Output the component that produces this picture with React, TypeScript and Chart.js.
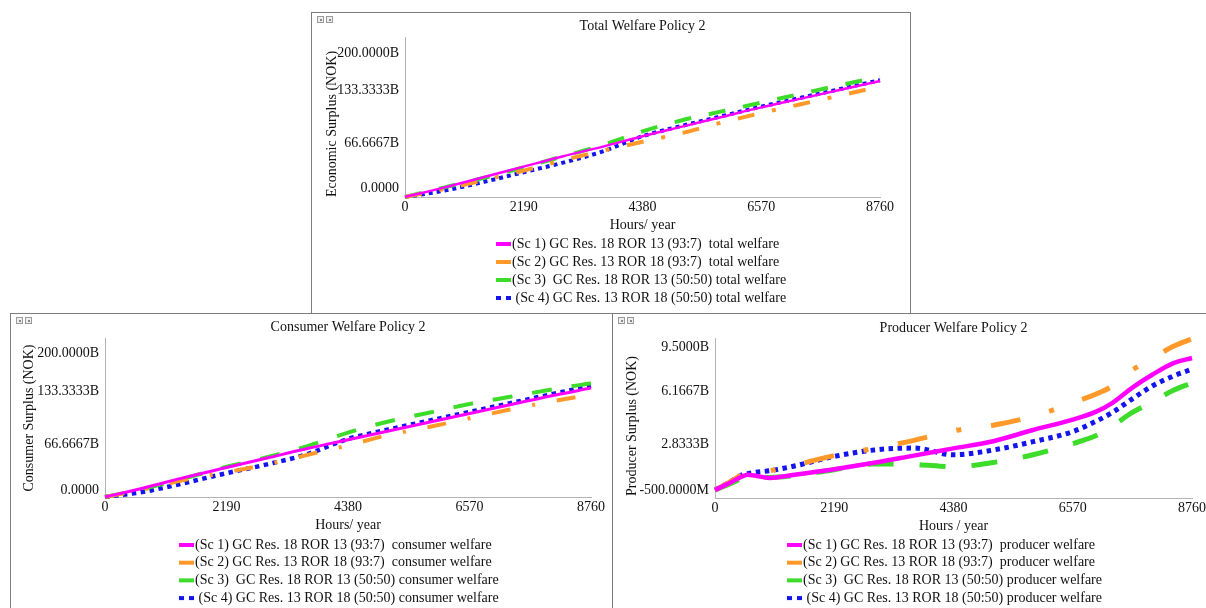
import React, { useEffect, useRef } from 'react';
import { Chart, registerables } from 'chart.js';

Chart.register(...registerables);

// ---------- data ----------
const HOURS = [0, 730, 1460, 2190, 2920, 3650, 4380, 5110, 5840, 6570, 7300, 8030, 8760];
const HOURS_PRODUCER = [0, 250, 500, 600, 730, 1000, 1460, 2190, 2920, 3650, 4380, 5110, 5840, 6570, 7000, 7300, 7665, 8030, 8400, 8760];
const X_TICKS = [0, 2190, 4380, 6570, 8760];
const X_TICK_LABELS = ['0', '2190', '4380', '6570', '8760'];

// billions NOK
const TOTAL_SC1 = [0, 12, 25, 38, 51, 63, 76, 88, 100, 112, 123, 134, 145];
const TOTAL_SC2 = [0, 10, 21, 33, 46, 58, 69, 80, 93, 105, 116, 127, 138];
const TOTAL_SC3 = [0, 12, 24, 37, 51, 65, 82, 96, 107, 118, 129, 140, 150];
const TOTAL_SC4 = [0, 8, 19, 31, 43, 57, 76, 89, 101, 113, 124, 135, 146];

const CONSUMER_SC1 = [0, 12, 25, 37, 49, 61, 72, 83, 94, 105, 116, 127, 137];
const CONSUMER_SC2 = [0, 10, 22, 31, 41, 53, 65, 78, 88, 99, 110, 120, 129];
const CONSUMER_SC3 = [0, 11, 24, 38, 50, 64, 81, 95, 106, 117, 126, 135, 143];
const CONSUMER_SC4 = [0, 7, 18, 30, 41, 54, 73, 85, 96, 107, 118, 129, 140];

const PRODUCER_SC1 = [0, 0.4, 0.85, 0.95, 0.9, 0.75, 0.95, 1.3, 1.7, 2.15, 2.6, 3.05, 3.75, 4.4, 4.9, 5.45, 6.4, 7.2, 7.9, 8.25];
const PRODUCER_SC2 = [0, 0.45, 0.95, 1.02, 1.1, 1.2, 1.55, 2.15, 2.6, 3.1, 3.7, 4.05, 4.6, 5.45, 6.0, 6.5, 7.5, 8.2, 8.95, 9.45];
const PRODUCER_SC3 = [0, 0.35, 0.72, 0.78, 0.8, 0.78, 0.9, 1.27, 1.62, 1.6, 1.45, 1.72, 2.2, 2.9, 3.4, 4.0, 4.85, 5.5, 6.2, 6.7];
const PRODUCER_SC4 = [0, 0.45, 0.95, 1.02, 1.1, 1.2, 1.5, 2.1, 2.5, 2.62, 2.2, 2.5, 3.02, 3.65, 4.3, 4.85, 5.7, 6.5, 7.1, 7.55];

const WELFARE_Y_TICKS = [0, 66.6667, 133.3333, 200];
const WELFARE_Y_LABELS = ['0.0000', '66.6667B', '133.3333B', '200.0000B'];
const PRODUCER_Y_TICKS = [-0.5, 2.8333, 6.1667, 9.5];
const PRODUCER_Y_LABELS = ['-500.0000M', '2.8333B', '6.1667B', '9.5000B'];

const SCENARIOS = [
  '(Sc 1) GC Res. 18 ROR 13 (93:7)  ',
  '(Sc 2) GC Res. 13 ROR 18 (93:7)  ',
  '(Sc 3)  GC Res. 18 ROR 13 (50:50) ',
  ' (Sc 4) GC Res. 13 ROR 18 (50:50) ',
];

// ---------- styles ----------
const COLORS = ['#ff00ff', '#ff9a2a', '#3ddc2a', '#1414ec'];
const LEGEND_DASH = [[], [], [], [5, 5]];
const FONT = '14px "Liberation Serif", "Times New Roman", Times, serif';
const TEXT = '#111111';
const AXIS = '#b4b4b4';

const STYLE_TOTAL = [
  { w: 2.5, dash: [] as number[] },
  { w: 4, dash: [17, 18, 4, 18] },
  { w: 4, dash: [17, 18] },
  { w: 4, dash: [4, 4] },
];
const STYLE_CONSUMER = [
  { w: 3, dash: [] as number[] },
  { w: 4, dash: [19, 22, 3, 22] },
  { w: 4, dash: [20, 20] },
  { w: 4.5, dash: [4.5, 4.5] },
];
const STYLE_PRODUCER = [
  { w: 4.5, dash: [] as number[] },
  { w: 5, dash: [30, 30, 5, 30] },
  { w: 5, dash: [26, 26] },
  { w: 5, dash: [4.5, 4.5] },
];

type PanelDef = {
  key: string;
  left: number; top: number; width: number; height: number; z: number;
  area: { l: number; t: number; r: number; b: number };
  title: string; titleY: number;
  yTitle: string; yTitleX: number; yTitleY: number;
  xTitle: string;
  yMin: number; yMax: number; yTicks: number[]; yLabels: string[];
  topShift: number; bottomShift: number;
  legendX: number; legendY: number; legendDy: number;
  suffix: string;
  hours: number[]; series: number[][];
  styles: { w: number; dash: number[] }[];
};

const PANELS: PanelDef[] = [
  {
    key: 'total', left: 311, top: 12, width: 600, height: 302, z: 1,
    area: { l: 94, t: 25, r: 569, b: 185 },
    title: 'Total Welfare Policy 2', titleY: 14,
    yTitle: 'Economic Surplus (NOK)', yTitleX: 21, yTitleY: 112,
    xTitle: 'Hours/ year',
    yMin: 0, yMax: 200, yTicks: WELFARE_Y_TICKS, yLabels: WELFARE_Y_LABELS,
    topShift: 16, bottomShift: 9,
    legendX: 185, legendY: 232, legendDy: 18,
    suffix: 'total welfare',
    hours: HOURS, series: [TOTAL_SC1, TOTAL_SC2, TOTAL_SC3, TOTAL_SC4],
    styles: STYLE_TOTAL,
  },
  {
    key: 'consumer', left: 10, top: 313, width: 603, height: 300, z: 2,
    area: { l: 95, t: 25, r: 581, b: 184 },
    title: 'Consumer Welfare Policy 2', titleY: 14,
    yTitle: 'Consumer Surplus (NOK)', yTitleX: 19, yTitleY: 105,
    xTitle: 'Hours/ year',
    yMin: 0, yMax: 200, yTicks: WELFARE_Y_TICKS, yLabels: WELFARE_Y_LABELS,
    topShift: 15, bottomShift: 7,
    legendX: 169, legendY: 232, legendDy: 17.7,
    suffix: 'consumer welfare',
    hours: HOURS, series: [CONSUMER_SC1, CONSUMER_SC2, CONSUMER_SC3, CONSUMER_SC4],
    styles: STYLE_CONSUMER,
  },
  {
    key: 'producer', left: 612, top: 313, width: 596, height: 300, z: 3,
    area: { l: 103, t: 25, r: 580, b: 185 },
    title: 'Producer Welfare Policy 2', titleY: 15,
    yTitle: 'Producer Surplus (NOK)', yTitleX: 20, yTitleY: 113,
    xTitle: 'Hours / year',
    yMin: -0.5, yMax: 9.5, yTicks: PRODUCER_Y_TICKS, yLabels: PRODUCER_Y_LABELS,
    topShift: 9, bottomShift: 8,
    legendX: 175, legendY: 232, legendDy: 17.7,
    suffix: 'producer welfare',
    hours: HOURS_PRODUCER, series: [PRODUCER_SC1, PRODUCER_SC2, PRODUCER_SC3, PRODUCER_SC4],
    styles: STYLE_PRODUCER,
  },
];

function makeDecor(p: PanelDef) {
  return {
    id: 'vensimDecor',
    afterDraw(chart: any) {
      const ctx: CanvasRenderingContext2D = chart.ctx;
      const xs = chart.scales.x;
      const ys = chart.scales.y;
      const a = chart.chartArea;
      const cx = (a.left + a.right) / 2;
      ctx.save();
      ctx.fillStyle = TEXT;
      ctx.font = FONT;
      ctx.textBaseline = 'middle';
      // title
      ctx.textAlign = 'center';
      ctx.fillText(p.title, cx, p.titleY);
      // y tick labels
      ctx.textAlign = 'right';
      p.yTicks.forEach((v, i) => {
        let y = ys.getPixelForValue(v);
        if (i === 0) y -= p.bottomShift;
        if (i === p.yTicks.length - 1) y += p.topShift;
        ctx.fillText(p.yLabels[i], a.left - 6, y);
      });
      // x tick labels + title
      ctx.textAlign = 'center';
      X_TICKS.forEach((v, i) => {
        ctx.fillText(X_TICK_LABELS[i], xs.getPixelForValue(v), a.bottom + 10.5);
      });
      ctx.fillText(p.xTitle, cx, a.bottom + 28);
      // y title
      ctx.save();
      ctx.translate(p.yTitleX, p.yTitleY);
      ctx.rotate(-Math.PI / 2);
      ctx.fillText(p.yTitle, 0, 0);
      ctx.restore();
      // legend
      ctx.textAlign = 'left';
      chart.data.datasets.forEach((ds: any, i: number) => {
        const y = p.legendY + i * p.legendDy;
        ctx.save();
        ctx.strokeStyle = ds.borderColor;
        ctx.lineWidth = 4;
        ctx.lineCap = 'butt';
        ctx.setLineDash(LEGEND_DASH[i]);
        ctx.beginPath();
        ctx.moveTo(p.legendX, y);
        ctx.lineTo(p.legendX + 15, y);
        ctx.stroke();
        ctx.restore();
        ctx.fillText(ds.label, p.legendX + 16, y);
      });
      ctx.restore();
    },
  };
}

function buildConfig(p: PanelDef): any {
  const datasets = p.series.map((vals, i) => ({
    label: SCENARIOS[i] + p.suffix,
    data: vals.map((v, j) => ({ x: p.hours[j], y: v })),
    borderColor: COLORS[i],
    backgroundColor: COLORS[i],
    borderWidth: p.styles[i].w,
    borderDash: p.styles[i].dash,
    borderCapStyle: 'butt',
    pointRadius: 0,
    fill: false,
    cubicInterpolationMode: 'monotone',
    clip: false,
  }));
  const axisCommon = {
    type: 'linear',
    display: true,
    grid: { display: false, drawTicks: false },
    ticks: { display: false },
    border: { display: true, color: AXIS, width: 1 },
    title: { display: false },
  };
  return {
    type: 'line',
    data: { datasets: datasets.slice().reverse().reverse() },
    options: {
      responsive: false,
      animation: false,
      events: [],
      layout: {
        autoPadding: false,
        padding: {
          left: p.area.l,
          top: p.area.t,
          right: p.width - p.area.r,
          bottom: p.height - p.area.b,
        },
      },
      scales: {
        x: { ...axisCommon, min: 0, max: 8760, position: 'bottom' },
        y: { ...axisCommon, min: p.yMin, max: p.yMax, position: 'left' },
      },
      plugins: {
        legend: { display: false },
        title: { display: false },
        tooltip: { enabled: false },
      },
    },
    plugins: [makeDecor(p)],
  };
}

function Icons() {
  const box: React.CSSProperties = {
    position: 'absolute', top: 3, width: 5, height: 5,
    border: '1px solid #9a9a9a', background: '#eeeeee',
  };
  const dot: React.CSSProperties = {
    position: 'absolute', left: 1.5, top: 1.5, width: 2, height: 2, background: '#888',
  };
  return (
    <>
      <div style={{ ...box, left: 5 }}><div style={dot} /></div>
      <div style={{ ...box, left: 14 }}><div style={dot} /></div>
    </>
  );
}

function Panel({ p }: { p: PanelDef }) {
  const ref = useRef<HTMLCanvasElement>(null);
  useEffect(() => {
    const chart = new Chart(ref.current as HTMLCanvasElement, buildConfig(p));
    return () => chart.destroy();
  }, [p]);
  return (
    <div
      style={{
        position: 'absolute', left: p.left, top: p.top, width: p.width, height: p.height,
        border: '1px solid #7c7c7c', boxSizing: 'border-box', background: '#ffffff',
        overflow: 'hidden', zIndex: p.z,
      }}
    >
      <canvas
        ref={ref}
        width={p.width}
        height={p.height}
        style={{ position: 'absolute', left: -1, top: -1, width: p.width, height: p.height }}
      />
      <Icons />
    </div>
  );
}

export default function App() {
  return (
    <div
      style={{
        position: 'fixed', left: 0, top: 0, width: 1206, height: 608,
        overflow: 'hidden', background: '#ffffff',
      }}
    >
      {PANELS.map((p) => (
        <Panel key={p.key} p={p} />
      ))}
    </div>
  );
}
